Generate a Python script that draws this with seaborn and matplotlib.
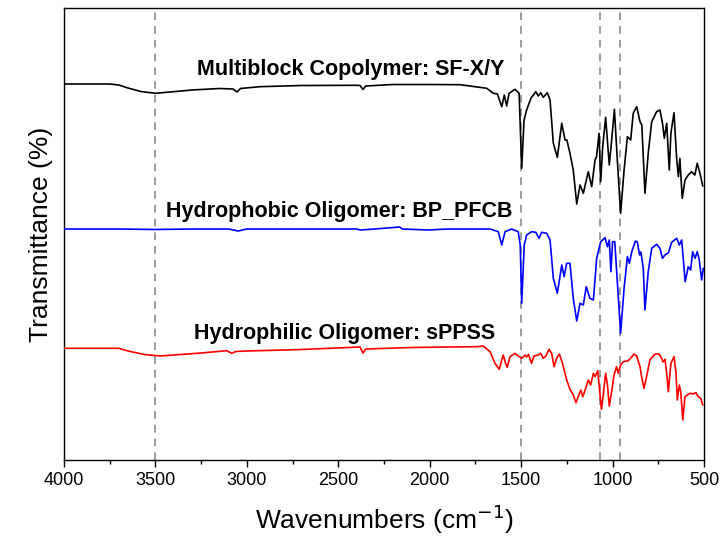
import numpy as np
import pandas as pd
import matplotlib
matplotlib.use("Agg")
import matplotlib.pyplot as plt
import seaborn as sns
from matplotlib.ticker import MultipleLocator

# ---------------- data (wavenumber cm^-1, transmittance arb. units with vertical offsets) --------------
wn_copolymer = [4000, 3750, 3700, 3650, 3580, 3500, 3420, 3300, 3150, 3076, 3054, 3035, 2930, 2700,
                2400, 2381, 2365, 2350, 2200, 2000, 1834, 1780, 1688, 1652, 1630, 1606, 1592, 1579,
                1566, 1534, 1511, 1497, 1484, 1470, 1456, 1446, 1433, 1420, 1406, 1393, 1379, 1357,
                1342, 1324, 1302, 1278, 1260, 1250, 1233, 1215, 1196, 1178, 1160, 1133, 1114, 1096,
                1088, 1074, 1065, 1054, 1038, 1018, 1005, 990, 974, 956, 937, 919, 901, 887, 868,
                850, 840, 823, 805, 786, 759, 741, 727, 717, 704, 690, 681, 664, 649, 640, 632, 619,
                604, 586, 568, 550, 537, 522, 507]
t_copolymer = [376, 376, 375, 372, 368.5, 366.7, 368, 370, 371.5, 371, 368, 371.5, 373.3, 374.5,
               374.7, 374.5, 370.5, 374, 375.5, 375.5, 375.3, 374, 371.7, 366.7, 366, 353.3, 365, 354,
               366.7, 370.7, 366.7, 291.7, 340, 350, 357, 362, 365, 368.3, 364, 367.3, 362.7, 367.3,
               360, 316.7, 302.7, 336.7, 320, 320, 306.7, 290, 256, 275, 266.7, 288.3, 273.3, 300,
               303, 326.7, 278.3, 313.3, 342.7, 295, 320, 350.7, 300, 246.7, 290, 323.3, 320, 346.7, 353.3,
               338.3, 335, 266.7, 306.7, 338.3, 348.3, 350, 336.7, 321.7, 336.7, 290, 326.7, 347.3, 300, 283.3, 301.7, 261.7,
               280, 285, 288.3, 285, 296.7, 286.7, 274]

wn_hydrophobic = [4000, 3700, 3500, 3300, 3100, 3048, 3000, 2400, 2380, 2300, 2165, 2150, 2010, 1900,
                  1780, 1670, 1625, 1606, 1588, 1552, 1516, 1505, 1497, 1483, 1470, 1443, 1420, 1402,
                  1388, 1360, 1342, 1324, 1302, 1278, 1265, 1251, 1233, 1215, 1196, 1178, 1160, 1144,
                  1124, 1105, 1087, 1065, 1041, 1028, 1018, 1009, 1000, 988, 974, 956, 937, 919, 908,
                  895, 875, 865, 852, 845, 832, 823, 805, 786, 759, 741, 727, 714, 695, 677, 649, 635,
                  622, 603, 586, 573, 562, 549, 537, 526, 513, 504]
t_hydrophobic = [231, 231, 230.5, 231, 231, 229, 231, 231, 230, 231, 233, 231, 230, 231,
                 231, 231, 228.3, 215, 228.3, 231, 228.3, 215, 156.7, 215, 225, 228.3, 227.7, 221.7,
                 227.7, 226.7, 220, 181.7, 166.7, 195, 183.3, 196.7, 196.7, 161.7, 139, 156.7, 155, 173.3,
                 161.7, 160, 201.7, 218.3, 222.3, 213.3, 220, 188.3, 218.3, 218.3, 178.3, 126.7, 171.7, 203.3, 196.7,
                 208.3, 219, 218, 205, 208, 191.7, 150, 188.3, 211.7, 215.7, 211.7, 201.7, 205, 207, 217.7, 221.7, 215,
                 220, 178.3, 193.3, 190, 208.3, 201.7, 208.3, 200, 180, 191.7]

wn_hydrophilic = [4000, 3850, 3700, 3650, 3560, 3475, 3400, 3250, 3110, 3083, 3060, 3000, 2700, 2381,
                  2365, 2350, 2100, 1900, 1743, 1707, 1670, 1643, 1620, 1598, 1585, 1576, 1561, 1534,
                  1516, 1497, 1479, 1470, 1460, 1443, 1430, 1406, 1393, 1379, 1365, 1347, 1333, 1320,
                  1306, 1291, 1274, 1251, 1233, 1215, 1200, 1188, 1174, 1163, 1150, 1133, 1120, 1105,
                  1096, 1081, 1072, 1061, 1052, 1038, 1028, 1018, 1005, 992, 978, 969, 956, 941, 915,
                  901, 883, 868, 850, 841, 828, 814, 796, 768, 745, 732, 724, 713, 704, 695, 681, 664,
                  653, 646, 635, 627, 616, 604, 591, 577, 560, 544, 532, 518, 507]
t_hydrophilic = [111.7, 111.7, 111.7, 109, 105.5, 104, 105, 107, 109.3, 106.7, 108.5, 109, 110.5, 113,
                 107, 111, 112.5, 113, 113.3, 114, 108.3, 96.7, 90.7, 105, 96.7, 92.7, 103.3, 106.7,
                 104, 101.7, 105, 103, 105.7, 96.7, 104, 105, 106.7, 101.7, 104, 110.7, 106.7, 93.3,
                 101.7, 106, 96.7, 80, 70.7, 65, 57.3, 63.3, 70, 63.3, 70, 80, 75, 86.7,
                 83.3, 89.3, 71.7, 50.7, 63.3, 86.7, 75, 54, 68.3, 85, 93.3, 86.7, 95, 98.3, 99.3,
                 101.7, 106, 104, 93.3, 83.3, 71.7, 83.3, 100, 106, 106, 101.7, 98, 100.7, 86.7, 68.3, 96.7, 103.3,
                 86.7, 60, 75, 68, 40, 63.3, 65, 66.7, 66, 67.3, 63.3, 61.7, 55]

series_names = ["Multiblock Copolymer: SF-X/Y", "Hydrophobic Oligomer: BP_PFCB", "Hydrophilic Oligomer: sPPSS"]
series_colors = ["black", "#0000ff", "#ff0000"]
marker_lines = [3500, 1500, 1070, 960]
label_pos = [(2430, 390), (2496, 248), (2463, 127)]

# ---------------- build table ----------------
frames = []
for name, wn, t in zip(series_names, [wn_copolymer, wn_hydrophobic, wn_hydrophilic],
                       [t_copolymer, t_hydrophobic, t_hydrophilic]):
    frames.append(pd.DataFrame({"wavenumber": wn, "transmittance": t, "sample": name}))
df = pd.concat(frames, ignore_index=True)

sns.set_theme(style="ticks")
plt.rcParams["font.family"] = ["Liberation Sans", "DejaVu Sans"]
plt.rcParams["text.color"] = "black"
plt.rcParams["axes.labelcolor"] = "black"
plt.rcParams["xtick.color"] = "black"
plt.rcParams["ytick.color"] = "black"

fig = plt.figure(figsize=(7.23, 5.39), dpi=100)
ax = fig.add_axes([64 / 723, 1 - 460 / 539, 640 / 723, 452 / 539])

for xv in marker_lines:
    ax.axvline(xv, color="#808080", linestyle=(0, (5, 4)), linewidth=1.1, zorder=1)

sns.lineplot(data=df, x="wavenumber", y="transmittance", hue="sample",
             palette=dict(zip(series_names, series_colors)), estimator=None,
             linewidth=1.2, legend=False, ax=ax, zorder=3)

for name, (xv, yv) in zip(series_names, label_pos):
    ax.text(xv, yv, name, ha="center", va="center", fontsize=15.5, fontweight="bold", color="black")

ax.set_xlim(4000, 500)
ax.set_ylim(0, 452)
ax.set_yticks([])
ax.xaxis.set_major_locator(MultipleLocator(500))
ax.xaxis.set_minor_locator(MultipleLocator(250))
ax.tick_params(axis="x", which="major", direction="out", length=5, width=1, labelsize=13,
               color="black", labelcolor="black")
ax.tick_params(axis="x", which="minor", direction="out", length=3, width=1, color="black")
for s in ax.spines.values():
    s.set_visible(True)
    s.set_color("black")
    s.set_linewidth(1.0)

ax.set_xlabel("Wavenumbers (cm$^{-1}$)", fontsize=19, labelpad=10, color="black")
ax.set_ylabel("Transmittance (%)", fontsize=19, labelpad=8, color="black")

fig.savefig("out.png", dpi=100)
